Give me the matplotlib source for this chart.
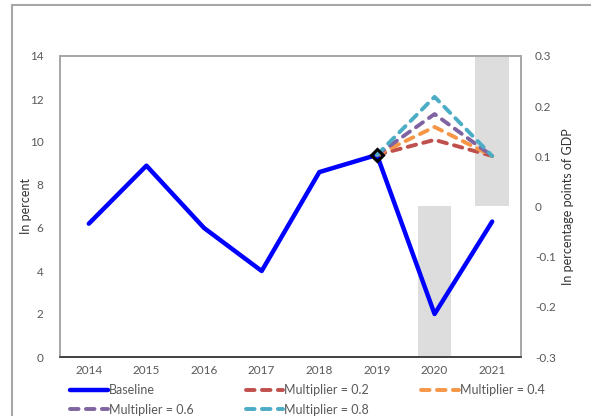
import matplotlib.pyplot as plt
import matplotlib.patches as mpatches
import numpy as np

######################### DATA #########################
years = ["2014", "2015", "2016", "2017", "2018", "2019", "2020", "2021"]
baseline = [6.2, 8.9, 6.0, 4.0, 8.6, 9.4, 2.0, 6.3]

# scenario lines start at 2019
scen_years = ["2019", "2020", "2021"]
mult_02 = [9.4, 10.1, 9.35]
mult_04 = [9.4, 10.7, 9.35]
mult_06 = [9.4, 11.3, 9.35]
mult_08 = [9.4, 12.1, 9.35]

# right axis bars (percentage points of GDP)
bar_years = ["2020", "2021"]
bar_vals = [-0.3, 0.3]

######################### PLOT #########################
plt.rcParams['font.family'] = ['Lato', 'DejaVu Sans']
grey_txt = '#595959'

fig = plt.figure(figsize=(5.91, 4.16), dpi=100)
ax = fig.add_axes([60/591, 1-357/416, 461/591, 301/416])
ax2 = ax.twinx()

xpos = {y: i for i, y in enumerate(years)}

# bars behind the lines
ax2.set_zorder(ax.get_zorder() - 1)
ax.patch.set_visible(False)
ax2.bar([xpos[y] for y in bar_years], bar_vals, width=0.58, color='#DDDDDD', zorder=1)
ax2.set_ylim(-0.3, 0.3)
ax2.set_yticks(np.arange(-0.3, 0.31, 0.1))
ax2.set_yticklabels(["-0.3", "-0.2", "-0.1", "0", "0.1", "0.2", "0.3"])
ax2.set_ylabel("In percentage points of GDP", fontsize=9, color='#333333')
ax2.yaxis.set_label_coords((562 - 60) / 461, 0.5)

ax.plot(range(len(years)), baseline, color='#0000FF', lw=3.2, label='Baseline',
        solid_capstyle='round', solid_joinstyle='round', zorder=3)

sx = [xpos[y] for y in scen_years]
dash = (0, (2.2, 1.9))
l2, = ax.plot(sx, mult_02, color='#C0504D', lw=2.8, ls=dash, dash_capstyle='round', label='Multiplier = 0.2', zorder=4)
l4, = ax.plot(sx, mult_04, color='#F79646', lw=2.8, ls=dash, dash_capstyle='round', label='Multiplier = 0.4', zorder=4)
l6, = ax.plot(sx, mult_06, color='#8064A2', lw=2.8, ls=dash, dash_capstyle='round', label='Multiplier = 0.6', zorder=4)
l8, = ax.plot(sx, mult_08, color='#4BACC6', lw=2.8, ls=dash, dash_capstyle='round', label='Multiplier = 0.8', zorder=4)
ax.plot([xpos["2019"]], [baseline[xpos["2019"]]], marker='D', ms=6, mfc='none',
        mec='black', mew=2.2, zorder=5)

ax.set_xlim(-0.5, len(years) - 0.5)
ax.set_ylim(0, 14)
ax.set_yticks(range(0, 15, 2))
ax.set_xticks(range(len(years)))
ax.set_xticklabels(years)
ax.set_ylabel("In percent", fontsize=9, color='#333333')
ax.yaxis.set_label_coords((32 - 60) / 461, 0.5)

for a in (ax, ax2):
    a.tick_params(length=0, labelsize=8.5, colors=grey_txt)
    for s in a.spines.values():
        s.set_color('#A6A6A6')
        s.set_linewidth(1.2)
ax.tick_params(axis='x', pad=6)
ax.tick_params(axis='y', pad=12)
ax2.tick_params(axis='y', pad=10)
ax.spines['bottom'].set_color('#404040')
ax2.spines['bottom'].set_color('#404040')

# legend, row-major order
h = ax.get_lines()
handles = [h[0], l6, l2, l8, l4]
labels = [x.get_label() for x in handles]
fig.legend(handles, labels, ncol=3, loc='upper left', bbox_to_anchor=(64/591, 1-378/416),
           frameon=False, fontsize=9, handlelength=3.0, handletextpad=0.1,
           columnspacing=4.15, labelspacing=0.6, borderpad=0, labelcolor=grey_txt)

# outer frame of the chart area
fig.patches.append(mpatches.Rectangle((12/591, -0.1), 1.2, 1.1 - 5/416, transform=fig.transFigure,
                                      fill=False, edgecolor='#A6A6A6', lw=1.5))

fig.savefig('out.png', dpi=100)
